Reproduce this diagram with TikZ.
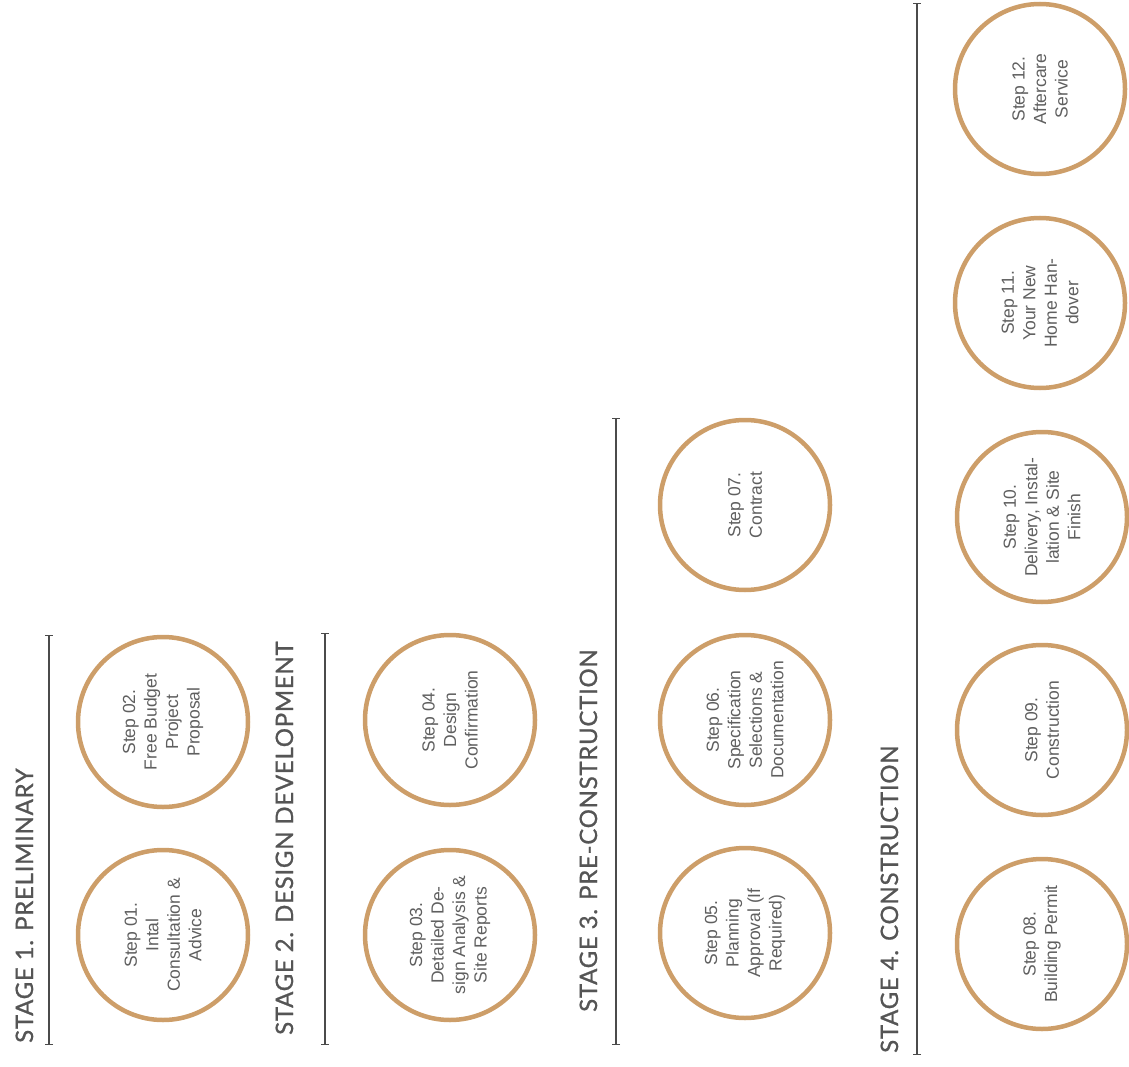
\documentclass[tikz,border=0pt]{standalone}
\usepackage{fontspec}
\setmainfont{Liberation Sans}
\newfontfamily\stagefont[LetterSpace=3,FakeBold=0.9]{Lato}
\usetikzlibrary{arrows.meta}
\definecolor{ring}{RGB}{205,158,105}
\definecolor{txt}{RGB}{95,95,95}
\definecolor{stagetxt}{RGB}{85,85,85}
\definecolor{rule}{RGB}{75,75,75}
\begin{document}
\begin{tikzpicture}[x=1pt,y=-1pt,
  stepc/.style={circle,draw=ring,line width=4.5pt,minimum size=170pt,inner sep=0pt,
    rotate=90,align=center,text=txt,font=\fontsize{17.5}{21.5}\selectfont},
  stagelbl/.style={rotate=90,anchor=base west,inner sep=0pt,text=stagetxt,
    font=\stagefont\fontsize{24}{28}\selectfont},
  seprule/.style={draw=rule,line width=2pt,
    {Bar[width=8pt,line width=1.2pt]}-{Bar[width=8pt,line width=1.2pt]}}]
\useasboundingbox (0,0) rectangle (1129,1067);

% stage labels
\node[stagelbl] (st1) at (33,1043) {STAGE 1. PRELIMINARY};
\node[stagelbl] (st2) at (293,1035) {STAGE 2. DESIGN DEVELOPMENT};
\node[stagelbl] (st3) at (597,1012) {STAGE 3. PRE-CONSTRUCTION};
\node[stagelbl] (st4) at (898,1053) {STAGE 4. CONSTRUCTION};

% separator rules
\coordinate (r1a) at (49,635);  \coordinate (r1b) at (49,1045);
\coordinate (r2a) at (325,633); \coordinate (r2b) at (325,1045);
\coordinate (r3a) at (616,418); \coordinate (r3b) at (616,1045);
\coordinate (r4a) at (917,3);   \coordinate (r4b) at (917,1055);
\draw[seprule] (r1a) -- (r1b);
\draw[seprule] (r2a) -- (r2b);
\draw[seprule] (r3a) -- (r3b);
\draw[seprule] (r4a) -- (r4b);

% steps
\node[stepc] (s01) at (163,935) {Step 01.\\Intal\\Consultation \&\\Advice};
\node[stepc] (s02) at (163,722) {Step 02.\\Free Budget\\Project\\Proposal};
\node[stepc] (s03) at (450,935) {Step 03.\\Detailed De-\\sign Analysis \&\\Site Reports};
\node[stepc] (s04) at (450,720) {Step 04.\\Design\\Confirmation};
\node[stepc] (s05) at (745,933) {Step 05.\\Planning\\Approval (If\\Required)};
\node[stepc] (s06) at (745,720) {Step 06.\\Specification\\Selections \&\\Documentation};
\node[stepc] (s07) at (745,505) {Step 07.\\Contract};
\node[stepc] (s08) at (1042,944) {Step 08.\\Building Permit};
\node[stepc] (s09) at (1042,730) {Step 09.\\Construction};
\node[stepc] (s10) at (1042,517) {Step 10.\\Delivery, Instal-\\lation \& Site\\Finish};
\node[stepc] (s11) at (1040,303) {Step 11.\\Your New\\Home Han-\\dover};
\node[stepc] (s12) at (1040,89) {Step 12.\\Aftercare\\Service};
\end{tikzpicture}
\end{document}
